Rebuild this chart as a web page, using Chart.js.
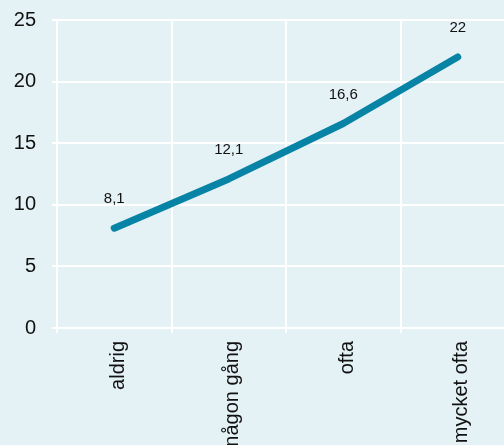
<!DOCTYPE html>
<html>
<head>
<meta charset="utf-8">
<script src="https://cdn.jsdelivr.net/npm/chart.js@4/dist/chart.umd.min.js"></script>
<style>
html,body{margin:0;padding:0;background:#e4f1f5;overflow:hidden;width:504px;height:445px;}
#wrap{position:absolute;left:0;top:0;width:516px;height:445px;}
</style>
</head>
<body>
<div id="wrap"><canvas id="c"></canvas></div>
<script>
const categories = ["aldrig", "någon gång", "ofta", "mycket ofta"];
const values = [8.1, 12.1, 16.6, 22];
const valueLabels = ["8,1", "12,1", "16,6", "22"];
const yTicks = [0, 5, 10, 15, 20, 25];

const FONT = "'Liberation Sans', Arial, sans-serif";

const labelPlugin = {
  id: 'valueLabels',
  afterDatasetsDraw(chart) {
    const ctx = chart.ctx;
    const meta = chart.getDatasetMeta(0);
    ctx.save();
    ctx.font = "15px " + FONT;
    ctx.fillStyle = "#111";
    ctx.textAlign = "center";
    ctx.textBaseline = "middle";
    meta.data.forEach((pt, i) => {
      ctx.fillText(valueLabels[i], pt.x, pt.y - 29);
    });
    ctx.restore();
  }
};

new Chart(document.getElementById('c'), {
  type: 'line',
  data: {
    labels: categories,
    datasets: [{
      data: values,
      borderColor: '#0783a6',
      borderWidth: 7,
      borderCapStyle: 'round',
      borderJoinStyle: 'round',
      pointRadius: 0,
      pointHoverRadius: 0,
      tension: 0,
      fill: false
    }]
  },
  options: {
    responsive: true,
    maintainAspectRatio: false,
    animation: false,
    layout: { autoPadding: false, padding: { top: 20, left: 0, right: 1, bottom: 0 } },
    plugins: { legend: { display: false }, tooltip: { enabled: false } },
    scales: {
      x: {
        offset: true,
        grid: { offset: true, color: '#ffffff', lineWidth: 2, tickLength: 5, drawTicks: true },
        border: { display: false },
        ticks: { color: '#111', font: { size: 20, family: FONT }, minRotation: 90, maxRotation: 90, padding: 8, labelOffset: 4 },
        afterFit(scale) { scale.height = 117; scale.paddingLeft = 0; scale.paddingRight = 0; }
      },
      y: {
        min: 0, max: 25,
        afterBuildTicks(scale) { scale.ticks = yTicks.map(v => ({ value: v })); },
        grid: { color: '#ffffff', lineWidth: 2, tickLength: 5, drawTicks: true },
        border: { display: false },
        ticks: { color: '#111', font: { size: 20, family: FONT }, padding: 16 },
        afterFit(scale) { scale.width = 57; scale.paddingTop = 0; scale.paddingBottom = 0; }
      }
    }
  },
  plugins: [labelPlugin]
});
</script>
</body>
</html>
